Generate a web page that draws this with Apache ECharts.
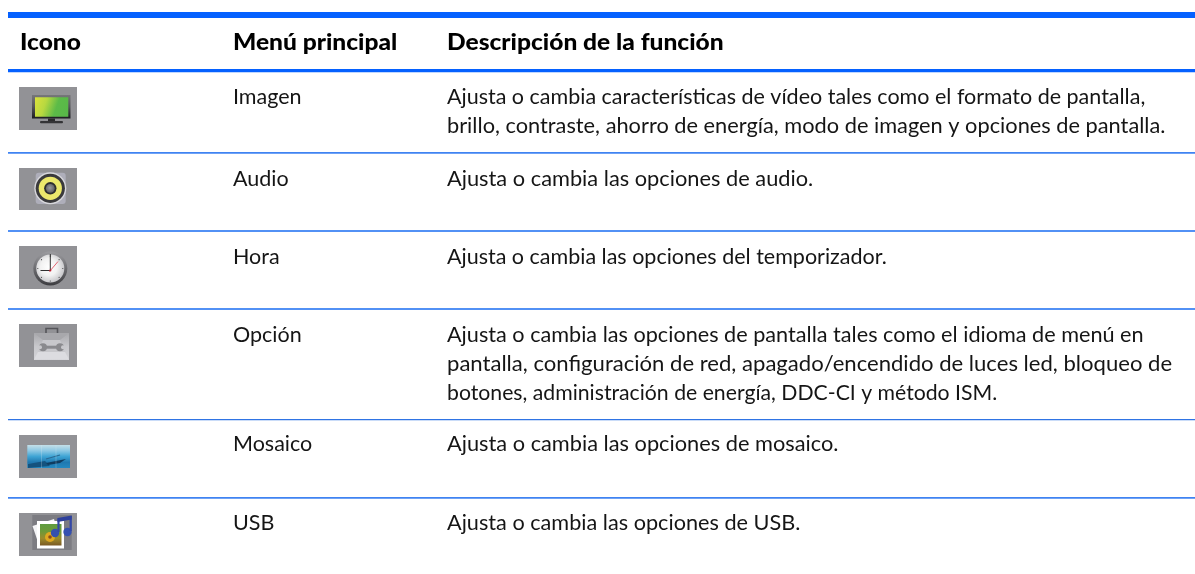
<!DOCTYPE html>
<html><head><meta charset="utf-8">
<script src="https://cdn.jsdelivr.net/npm/echarts@6/dist/echarts.min.js"></script>
<style>html,body{margin:0;padding:0;background:#fff}#c{width:1195px;height:574px}</style></head>
<body><div id="c"></div>
<script>
const headers = ['Icono', 'Menú principal', 'Descripción de la función'];
const menus = ['Imagen', 'Audio', 'Hora', 'Opción', 'Mosaico', 'USB'];
const descriptions = [
  ['Ajusta o cambia características de vídeo tales como el formato de pantalla,', 'brillo, contraste, ahorro de energía, modo de imagen y opciones de pantalla.'],
  ['Ajusta o cambia las opciones de audio.'],
  ['Ajusta o cambia las opciones del temporizador.'],
  ['Ajusta o cambia las opciones de pantalla tales como el idioma de menú en', 'pantalla, configuración de red, apagado/encendido de luces led, bloqueo de', 'botones, administración de energía, DDC-CI y método ISM.'],
  ['Ajusta o cambia las opciones de mosaico.'],
  ['Ajusta o cambia las opciones de USB.']
];
const lineScales = [[1, 1.013], [1.014], [1], [1.007, 1.027, 0.987], [1.013], [1.008]];
const chart = echarts.init(document.getElementById('c'));
const FONT = 'Lato';
const BOLD_SX = 1.066;
const g = [];
const R = (x,y,w,h,fill,r) => g.push({type:'rect', shape:{x,y,width:w,height:h,r:r||0}, style:{fill}});
const C = (cx,cy,r,fill,stroke,lw) => g.push({type:'circle', shape:{cx,cy,r}, style:{fill:fill||'none',stroke:stroke||'none',lineWidth:lw||1}});
const L = (x1,y1,x2,y2,stroke,lw) => g.push({type:'line', shape:{x1,y1,x2,y2}, style:{stroke,lineWidth:lw||1}});
const P = (points,fill,stroke,lw) => g.push({type:'polygon', shape:{points}, style:{fill:fill||'none',stroke:stroke||'none',lineWidth:lw||1}});
const lin = (x,y,x2,y2,stops) => ({type:'linear',x,y,x2,y2,colorStops:stops.map((c,i)=>({offset:i/(stops.length-1),color:c}))});
const rad = (stops) => ({type:'radial',x:0.45,y:0.45,r:0.6,colorStops:stops.map((c,i)=>({offset:i/(stops.length-1),color:c}))});

// rules
R(8,12,1187,6,'#0561ff');
R(8,69,1187,3.2,'#0561ff');
[[152,1.7,'#3f83f2'],[230,1.9,'#5291f5'],[308,1.9,'#5291f5'],[419,1.3,'#2f74e4'],[497,1.7,'#3f83f2']].forEach(([y,h,c])=>R(8,y,1187,h,c));

// text
const text = (x, base, s, bold, sx) => g.push({type:'text', x, y: base-(bold?6.8:6), scaleX: bold?BOLD_SX:(sx||1), style:{text:s, fill:bold?'#000':'#151515', font:(bold?'900 ':'400 ')+(bold?'23px ':'21.5px ')+FONT, textVerticalAlign:'middle'}});
[20, 233, 447].forEach((x,i)=>text(x, 49, headers[i], true));
const baselines = [103.5, 185, 263, 341, 450.5, 529];
const lineGap = 29;
menus.forEach((m,i)=>{
  text(233, baselines[i], m);
  descriptions[i].forEach((l,j)=>text(447, baselines[i]+j*lineGap, l, false, lineScales[i][j]));
});

// icon backgrounds
const BG = '#929296';
[[87,43],[168,42],[246,43],[324,43],[435,43],[513,43]].forEach(([y,h])=>R(19,y,58,h,BG));

// monitor
R(32,95,38.5,23.5,lin(0,0,0,1,['#77777a','#55555a','#1c1c20']));
R(35,97.3,33.3,19.4,lin(0,0,1,0.6,['#dce23c','#b8d840','#5cbb48','#58b848']));
R(48,118.5,7,3,'#2a2a2c');
R(40,121,23,2.2,'#333336',1);

// speaker
R(35.7,172.7,30,31.3,'#aeaeba',3);
C(50.3,188.3,16,'#d8d8dc');
C(50.3,188.3,14.6,'#3a3a3c');
C(50.3,188.3,11.6,'#ece86c');
C(50.3,188.3,6.2,'#2e2e30');
C(50.3,188.3,4.4,rad(['#9a9a9e','#5a5a5e']));

// clock
C(50.3,268.5,17,lin(0,0,0,1,['#9c9ca0','#6c6c70','#3c3c40']));
C(50.3,268.5,14,rad(['#ffffff','#f2f2f2','#c0c0c4']));
[[0,-12.5],[12.5,0],[0,12.5],[-12.5,0],[8.8,-8.8],[8.8,8.8],[-8.8,8.8],[-8.8,-8.8]].forEach(([dx,dy])=>C(50.3+dx,268.5+dy,0.6,'#444'));
L(50.3,270.5,50.3,254,'#1a1a1a',0.9);
L(50.3,270.5,40.5,270.5,'#1a1a1a',0.9);
L(49.5,271.5,58,261.5,'#e04050',0.8);
C(50.3,270.5,1.1,'#c02030');

// toolbox
g.push({type:'rect',shape:{x:46,y:328.5,width:11.5,height:6},style:{fill:'none',stroke:'#55555a',lineWidth:1.6}});
R(34,333,35,27,lin(0,0,0,1,['#a8a8ac','#c8c8cc','#d4d4d8']));
P([[34,333],[69,333],[60,340],[43,340]],'#a8a8ac');
P([[38,352],[65,352],[69,359.5],[34,359.5]],'#dcdce0');
P([[43,340],[60,340],[65,352],[38,352]],'#c8c8cc');
R(44,345.7,15,3,'#8a8a8e');
C(43,347.2,4,'#8a8a8e'); C(60,347.2,4,'#8a8a8e');
C(40,347.2,2,'#c8c8cc'); C(63,347.2,2,'#c8c8cc');

// mosaic
R(27.3,445,42.7,23,lin(0,0,0,1,['#c4dfe8','#8cc8e4','#3ea4d4','#1f78b0','#2488c0']));
P([[28,464],[45,461],[50,466],[28,468]],'#14527e');
P([[46,463],[66,459],[60,463],[48,465]],'#0f3c60');
L(46,459,60,455,'#2a6a94',1.2);
[41.5,56].forEach(x=>L(x,445,x,468,'rgba(220,235,245,0.25)',1));

// usb
R(32.3,515,39.4,35,'#7c7c82');
P([[32.5,526],[54,519],[60,540],[40,548]],'#f4f4f6');
R(37,521,27,27.5,'#ffffff');
R(40,524,21.5,21.5,lin(0,0,0,1,['#5f9c40','#6c9a38','#9c8c2c','#7c5a24']));
C(50,537,5,'#e0a820'); C(50,537,1.8,'#8a4a1a');
C(55,533,4.2,'#3550b0'); C(67.5,532,4.2,'#3550b0');
L(58.5,532,58.5,518.5,'#3448a8',2.2);
L(70.7,531,70.7,516,'#3448a8',2.2);
P([[57.5,518],[71.7,515.5],[71.7,519.5],[57.5,522]],'#2e409c');

chart.setOption({animation:false, graphic:g});
</script></body></html>
